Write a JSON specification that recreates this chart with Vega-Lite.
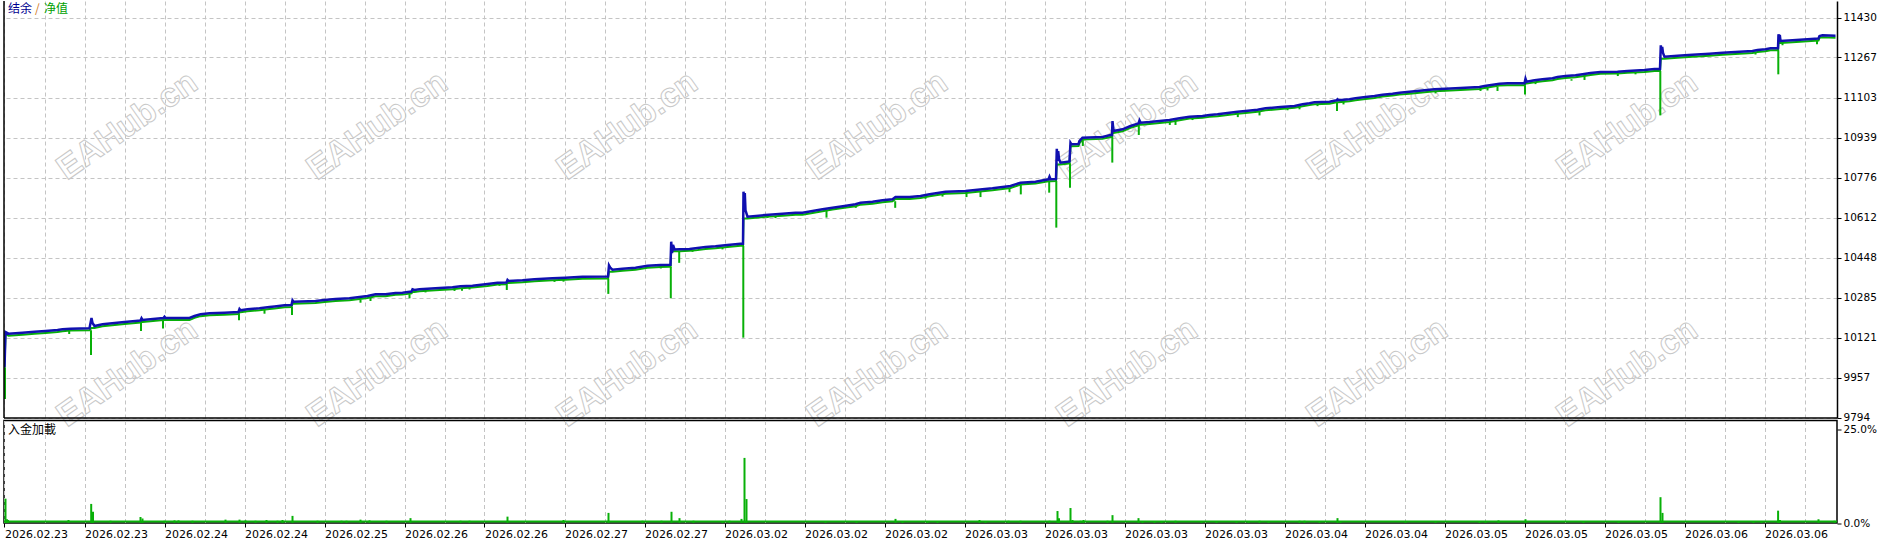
{
  "$schema": "https://vega.github.io/schema/vega-lite/v6.json",
  "background": "white",
  "padding": {"left": 2, "top": 0, "right": 0, "bottom": 0},
  "bounds": "flush",
  "spacing": 2.5,
  "config": {"view": {"stroke": null}, "font": "DejaVu Sans"},
  "datasets": {
    "series": [
      {"x":0,"b":10000,"e":10000},{"x":1,"b":10144.1,"e":10136},{"x":4,"b":10137.2,"e":10129},{"x":18,"b":10141.3,"e":10133},{"x":30,"b":10145.3,"e":10137},{"x":41,"b":10148.2,"e":10140},{"x":53,"b":10152.3,"e":10144},{"x":58,"b":10155.2,"e":10147},{"x":66,"b":10157.6,"e":10150},{"x":85,"b":10159.2,"e":10151},{"x":87,"b":10201.4,"e":10161},{"x":88,"b":10180.9,"e":10161},{"x":90,"b":10168.7,"e":10161},{"x":98,"b":10175.6,"e":10168},{"x":120,"b":10185.0,"e":10177},{"x":131,"b":10189.1,"e":10181},{"x":136,"b":10191.1,"e":10183},{"x":137,"b":10200.1,"e":10185},{"x":138,"b":10193.2,"e":10185},{"x":159,"b":10201.4,"e":10193},{"x":160,"b":10206.7,"e":10193},{"x":161,"b":10201.4,"e":10193},{"x":185,"b":10201.4,"e":10193},{"x":190,"b":10209.6,"e":10202},{"x":196,"b":10216.5,"e":10209},{"x":205,"b":10220.6,"e":10213},{"x":220,"b":10223.1,"e":10215},{"x":234,"b":10225.9,"e":10218},{"x":235,"b":10238.2,"e":10225},{"x":236,"b":10232.9,"e":10225},{"x":243,"b":10237.0,"e":10229},{"x":255,"b":10241.0,"e":10233},{"x":265,"b":10246.4,"e":10238},{"x":270,"b":10248.4,"e":10240},{"x":280,"b":10253.3,"e":10245},{"x":287,"b":10254.5,"e":10246},{"x":288,"b":10273.8,"e":10260},{"x":289,"b":10268.0,"e":10260},{"x":311,"b":10270.9,"e":10263},{"x":320,"b":10275.0,"e":10267},{"x":331,"b":10279.1,"e":10271},{"x":345,"b":10281.9,"e":10274},{"x":363,"b":10291.4,"e":10283},{"x":371,"b":10298.3,"e":10290},{"x":381,"b":10298.3,"e":10290},{"x":391,"b":10303.6,"e":10296},{"x":398,"b":10304.9,"e":10297},{"x":407,"b":10309.8,"e":10302},{"x":408,"b":10318.8,"e":10308},{"x":410,"b":10315.9,"e":10308},{"x":415,"b":10318.8,"e":10311},{"x":431,"b":10322.8,"e":10315},{"x":448,"b":10326.9,"e":10319},{"x":456,"b":10331.0,"e":10323},{"x":468,"b":10333.5,"e":10326},{"x":483,"b":10340.4,"e":10332},{"x":493,"b":10345.8,"e":10338},{"x":502,"b":10346.6,"e":10339},{"x":503,"b":10356.8,"e":10345},{"x":504,"b":10352.7,"e":10345},{"x":518,"b":10355.6,"e":10348},{"x":530,"b":10359.7,"e":10352},{"x":548,"b":10363.7,"e":10356},{"x":561,"b":10366.2,"e":10358},{"x":578,"b":10370.3,"e":10362},{"x":603.5,"b":10371.1,"e":10363},{"x":604.5,"b":10416.9,"e":10391},{"x":606,"b":10405.9,"e":10391},{"x":608,"b":10398.9,"e":10391},{"x":618,"b":10403.0,"e":10395},{"x":631,"b":10407.1,"e":10399},{"x":643,"b":10415.3,"e":10407},{"x":656,"b":10418.1,"e":10410},{"x":665,"b":10419.4,"e":10411},{"x":666,"b":10419.4,"e":10411},{"x":666.7,"b":10513.4,"e":10474},{"x":667.5,"b":10467.2,"e":10474},{"x":668.5,"b":10499.9,"e":10474},{"x":670,"b":10481.5,"e":10474},{"x":675,"b":10482.4,"e":10474},{"x":685,"b":10483.6,"e":10476},{"x":691,"b":10486.4,"e":10478},{"x":701,"b":10491.8,"e":10484},{"x":711,"b":10494.6,"e":10487},{"x":723,"b":10499.9,"e":10492},{"x":736,"b":10505.3,"e":10497},{"x":738.5,"b":10505.3,"e":10497},{"x":739,"b":10717.9,"e":10608},{"x":739.7,"b":10679.9,"e":10608},{"x":740.3,"b":10712.6,"e":10608},{"x":741,"b":10641.9,"e":10608},{"x":743,"b":10615.7,"e":10608},{"x":761,"b":10622.6,"e":10615},{"x":778,"b":10628.0,"e":10620},{"x":791,"b":10632.1,"e":10624},{"x":798,"b":10632.1,"e":10624},{"x":808,"b":10639.0,"e":10631},{"x":818,"b":10646.0,"e":10638},{"x":828,"b":10652.5,"e":10645},{"x":840,"b":10659.5,"e":10652},{"x":851,"b":10666.4,"e":10658},{"x":856,"b":10673.0,"e":10665},{"x":868,"b":10677.0,"e":10669},{"x":878,"b":10682.8,"e":10675},{"x":888,"b":10686.9,"e":10679},{"x":891,"b":10696.3,"e":10688},{"x":905,"b":10696.3,"e":10688},{"x":916,"b":10700.4,"e":10692},{"x":925,"b":10707.3,"e":10699},{"x":941,"b":10717.9,"e":10710},{"x":961,"b":10720.8,"e":10713},{"x":978,"b":10727.8,"e":10720},{"x":988,"b":10731.8,"e":10724},{"x":1006,"b":10741.3,"e":10733},{"x":1016,"b":10754.8,"e":10747},{"x":1031,"b":10758.8,"e":10751},{"x":1044,"b":10768.7,"e":10761},{"x":1045,"b":10779.3,"e":10761},{"x":1046,"b":10768.7,"e":10761},{"x":1051.5,"b":10769.9,"e":10762},{"x":1052.3,"b":10893.8,"e":10829},{"x":1053,"b":10843.5,"e":10829},{"x":1053.7,"b":10884.4,"e":10829},{"x":1054.5,"b":10851.7,"e":10829},{"x":1056,"b":10836.6,"e":10829},{"x":1065,"b":10841.5,"e":10834},{"x":1066,"b":10918.4,"e":10904},{"x":1067,"b":10911.8,"e":10904},{"x":1074,"b":10913.0,"e":10905},{"x":1075,"b":10925.3,"e":10917},{"x":1078,"b":10938.8,"e":10931},{"x":1098,"b":10941.7,"e":10934},{"x":1106,"b":10949.8,"e":10942},{"x":1107.5,"b":10949.8,"e":10942},{"x":1108,"b":11007.1,"e":10958},{"x":1109,"b":10966.2,"e":10958},{"x":1118,"b":10973.2,"e":10965},{"x":1126,"b":10986.7,"e":10979},{"x":1134,"b":10996.9,"e":10989},{"x":1135,"b":11009.1,"e":10992},{"x":1136,"b":11000.2,"e":10992},{"x":1145,"b":11003.0,"e":10995},{"x":1155,"b":11007.1,"e":10999},{"x":1165,"b":11011.2,"e":11003},{"x":1175,"b":11018.1,"e":11010},{"x":1185,"b":11024.7,"e":11017},{"x":1198,"b":11027.6,"e":11020},{"x":1205,"b":11031.6,"e":11024},{"x":1213,"b":11034.5,"e":11027},{"x":1223,"b":11039.8,"e":11032},{"x":1233,"b":11045.1,"e":11037},{"x":1241,"b":11048.0,"e":11040},{"x":1253,"b":11053.3,"e":11045},{"x":1261,"b":11059.0,"e":11051},{"x":1276,"b":11064.4,"e":11056},{"x":1290,"b":11068.5,"e":11061},{"x":1298,"b":11075.4,"e":11067},{"x":1305,"b":11079.5,"e":11072},{"x":1310,"b":11083.6,"e":11076},{"x":1325,"b":11086.0,"e":11078},{"x":1332,"b":11091.8,"e":11084},{"x":1333,"b":11095.9,"e":11084},{"x":1334,"b":11091.8,"e":11084},{"x":1345,"b":11095.9,"e":11088},{"x":1351,"b":11099.9,"e":11092},{"x":1361,"b":11105.3,"e":11097},{"x":1370,"b":11109.4,"e":11101},{"x":1378,"b":11114.7,"e":11107},{"x":1388,"b":11118.8,"e":11111},{"x":1395,"b":11122.9,"e":11115},{"x":1405,"b":11126.9,"e":11119},{"x":1420,"b":11132.7,"e":11125},{"x":1430,"b":11136.8,"e":11129},{"x":1441,"b":11139.2,"e":11131},{"x":1456,"b":11142.1,"e":11134},{"x":1475,"b":11146.2,"e":11138},{"x":1480,"b":11150.3,"e":11142},{"x":1495,"b":11159.7,"e":11152},{"x":1503,"b":11161.3,"e":11153},{"x":1520,"b":11161.3,"e":11153},{"x":1521,"b":11180.1,"e":11160},{"x":1522,"b":11167.8,"e":11160},{"x":1530,"b":11173.6,"e":11166},{"x":1538,"b":11177.7,"e":11170},{"x":1548,"b":11181.7,"e":11174},{"x":1553,"b":11187.1,"e":11179},{"x":1561,"b":11191.2,"e":11183},{"x":1571,"b":11194.0,"e":11186},{"x":1578,"b":11198.1,"e":11190},{"x":1586,"b":11203.4,"e":11195},{"x":1596,"b":11207.5,"e":11200},{"x":1613,"b":11208.7,"e":11201},{"x":1623,"b":11211.6,"e":11204},{"x":1640,"b":11215.7,"e":11208},{"x":1650,"b":11219.8,"e":11212},{"x":1655.5,"b":11219.8,"e":11212},{"x":1656.3,"b":11316.7,"e":11262},{"x":1657,"b":11293.4,"e":11262},{"x":1657.7,"b":11309.8,"e":11262},{"x":1658.5,"b":11285.2,"e":11262},{"x":1660,"b":11270.1,"e":11262},{"x":1673,"b":11274.2,"e":11266},{"x":1688,"b":11278.3,"e":11270},{"x":1705,"b":11282.4,"e":11274},{"x":1718,"b":11286.5,"e":11278},{"x":1735,"b":11290.5,"e":11282},{"x":1748,"b":11293.4,"e":11285},{"x":1753,"b":11297.5,"e":11289},{"x":1761,"b":11300.4,"e":11292},{"x":1766,"b":11304.4,"e":11296},{"x":1773.5,"b":11304.4,"e":11296},{"x":1774,"b":11361.7,"e":11326},{"x":1774.7,"b":11342.5,"e":11326},{"x":1775.3,"b":11358.8,"e":11326},{"x":1776,"b":11334.3,"e":11326},{"x":1788,"b":11337.2,"e":11329},{"x":1803,"b":11341.3,"e":11333},{"x":1814,"b":11344.5,"e":11336},{"x":1815,"b":11354.8,"e":11347},{"x":1818,"b":11357.6,"e":11350},{"x":1831,"b":11356.0,"e":11348}
    ],
    "dips": [
      {"x":0.5,"hi":10000,"lo":9870},{"x":64.7,"hi":10149,"lo":10136},{"x":86.5,"hi":10151,"lo":10050},{"x":136.5,"hi":10183,"lo":10148},{"x":158.5,"hi":10193,"lo":10158},{"x":234.5,"hi":10218,"lo":10192},{"x":260,"hi":10236,"lo":10219},{"x":287.5,"hi":10246,"lo":10214},{"x":356,"hi":10276,"lo":10264},{"x":366,"hi":10284,"lo":10271},{"x":405,"hi":10299,"lo":10282},{"x":421,"hi":10312,"lo":10306},{"x":450,"hi":10319,"lo":10312},{"x":457.5,"hi":10323,"lo":10313},{"x":465,"hi":10325,"lo":10318},{"x":495,"hi":10338,"lo":10333},{"x":502.3,"hi":10339,"lo":10316},{"x":550,"hi":10356,"lo":10349},{"x":559,"hi":10358,"lo":10350},{"x":603.8,"hi":10363,"lo":10300},{"x":656.3,"hi":10410,"lo":10404},{"x":666.3,"hi":10411,"lo":10282},{"x":674.7,"hi":10474,"lo":10427},{"x":688,"hi":10476,"lo":10472},{"x":718,"hi":10489,"lo":10482},{"x":738.8,"hi":10497,"lo":10121},{"x":763,"hi":10615,"lo":10611},{"x":771,"hi":10617,"lo":10610},{"x":822,"hi":10640,"lo":10612},{"x":851.3,"hi":10658,"lo":10652},{"x":890.7,"hi":10679,"lo":10652},{"x":921,"hi":10694,"lo":10689},{"x":938,"hi":10705,"lo":10698},{"x":962,"hi":10713,"lo":10696},{"x":976,"hi":10719,"lo":10696},{"x":1005,"hi":10732,"lo":10716},{"x":1016.3,"hi":10747,"lo":10707},{"x":1044.7,"hi":10761,"lo":10714},{"x":1051.8,"hi":10762,"lo":10571},{"x":1065.5,"hi":10834,"lo":10734},{"x":1078.3,"hi":10931,"lo":10905},{"x":1107.8,"hi":10942,"lo":10837},{"x":1134.3,"hi":10989,"lo":10950},{"x":1165.3,"hi":11003,"lo":10991},{"x":1171,"hi":11006,"lo":10991},{"x":1188,"hi":11017,"lo":11011},{"x":1233.3,"hi":11037,"lo":11023},{"x":1255,"hi":11045,"lo":11030},{"x":1283,"hi":11058,"lo":11051},{"x":1295,"hi":11064,"lo":11055},{"x":1313,"hi":11076,"lo":11068},{"x":1332.5,"hi":11084,"lo":11048},{"x":1339,"hi":11086,"lo":11075},{"x":1431,"hi":11129,"lo":11120},{"x":1476,"hi":11138,"lo":11130},{"x":1483,"hi":11142,"lo":11132},{"x":1493,"hi":11147,"lo":11130},{"x":1520.5,"hi":11153,"lo":11116},{"x":1531,"hi":11166,"lo":11158},{"x":1567,"hi":11178,"lo":11172},{"x":1580,"hi":11190,"lo":11175},{"x":1613.3,"hi":11201,"lo":11191},{"x":1631,"hi":11205,"lo":11198},{"x":1655.8,"hi":11212,"lo":11030},{"x":1751,"hi":11285,"lo":11279},{"x":1773.8,"hi":11296,"lo":11198},{"x":1778,"hi":11326,"lo":11317},{"x":1812.5,"hi":11336,"lo":11321}
    ],
    "load": [
      {"x":1,"p":6.5},{"x":2.5,"p":1.0},{"x":3.5,"p":0.8},{"x":64,"p":0.8},{"x":86.7,"p":5.1},{"x":88.5,"p":3.0},{"x":106,"p":0.6},{"x":136,"p":1.6},{"x":138,"p":1.2},{"x":160,"p":0.6},{"x":170,"p":0.7},{"x":174,"p":0.7},{"x":188,"p":0.6},{"x":221,"p":0.9},{"x":235,"p":0.9},{"x":241,"p":0.7},{"x":251,"p":0.6},{"x":262,"p":0.8},{"x":273,"p":0.6},{"x":278,"p":0.8},{"x":288,"p":1.9},{"x":313,"p":0.6},{"x":337,"p":0.6},{"x":342,"p":0.6},{"x":356,"p":0.9},{"x":365,"p":0.7},{"x":382,"p":0.6},{"x":406,"p":1.3},{"x":456,"p":0.6},{"x":465,"p":0.6},{"x":503,"p":1.7},{"x":559,"p":0.8},{"x":604,"p":2.7},{"x":638,"p":0.6},{"x":657,"p":0.6},{"x":667,"p":3.0},{"x":675,"p":1.3},{"x":689,"p":0.6},{"x":718,"p":0.5},{"x":725,"p":0.6},{"x":737,"p":1.1},{"x":740,"p":17.4},{"x":742,"p":6.4},{"x":821,"p":0.4},{"x":852,"p":0.4},{"x":891,"p":1.1},{"x":898,"p":0.5},{"x":923,"p":0.5},{"x":933,"p":0.4},{"x":975,"p":0.8},{"x":981,"p":0.5},{"x":1004,"p":0.6},{"x":1016,"p":0.6},{"x":1045,"p":0.6},{"x":1053,"p":3.2},{"x":1054.5,"p":1.3},{"x":1066,"p":4.0},{"x":1068,"p":0.8},{"x":1076,"p":0.6},{"x":1079,"p":0.8},{"x":1103,"p":0.6},{"x":1108,"p":2.1},{"x":1134,"p":1.3},{"x":1138,"p":0.5},{"x":1150,"p":0.5},{"x":1157,"p":0.5},{"x":1171,"p":0.6},{"x":1197,"p":0.5},{"x":1212,"p":0.4},{"x":1232,"p":0.4},{"x":1244,"p":0.5},{"x":1255,"p":0.6},{"x":1264,"p":0.5},{"x":1295,"p":0.6},{"x":1300,"p":0.6},{"x":1315,"p":0.5},{"x":1333,"p":1.3},{"x":1336,"p":0.5},{"x":1401,"p":0.4},{"x":1431,"p":0.4},{"x":1475,"p":0.5},{"x":1481,"p":0.5},{"x":1494,"p":0.7},{"x":1521,"p":1.0},{"x":1579,"p":0.4},{"x":1614,"p":0.4},{"x":1656,"p":6.9},{"x":1658,"p":2.7},{"x":1734,"p":0.4},{"x":1749,"p":0.4},{"x":1757,"p":0.5},{"x":1773.6,"p":3.3},{"x":1775.5,"p":0.8},{"x":1814,"p":1.0},{"x":1830,"p":0.6}
    ],
    "watermark": [
      {"x":123,"y":10986.6},{"x":373,"y":10986.6},{"x":623,"y":10986.6},{"x":873,"y":10986.6},{"x":1123,"y":10986.6},{"x":1373,"y":10986.6},{"x":1623,"y":10986.6},
      {"x":123,"y":9976.4},{"x":373,"y":9976.4},{"x":623,"y":9976.4},{"x":873,"y":9976.4},{"x":1123,"y":9976.4},{"x":1373,"y":9976.4},{"x":1623,"y":9976.4}
    ]
  },
  "vconcat": [
    {
      "width": 1833,
      "height": 417,
      "layer": [
        {
          "data": {"name": "watermark"},
          "mark": {"type": "text", "text": "EAHub.cn", "font": "Liberation Sans", "fontWeight": "bold", "fontSize": 34, "angle": -35, "align": "center", "baseline": "middle", "fill": "white", "fillOpacity": 0, "stroke": "#c8c8c8", "strokeWidth": 1},
          "encoding": {
            "x": {"field": "x", "type": "quantitative",
              "scale": {"domain": [-0.5, 1832.5], "nice": false, "zero": false},
              "axis": {"values": [0,40,80,120,160,200,240,280,320,360,400,440,480,520,560,600,640,680,720,760,800,840,880,920,960,1000,1040,1080,1120,1160,1200,1240,1280,1320,1360,1400,1440,1480,1520,1560,1600,1640,1680,1720,1760,1800],
                "labels": false, "ticks": false, "domain": false, "grid": true, "gridColor": "#c4c4c4", "gridDash": [4, 3], "gridWidth": 1, "title": null}},
            "y": {"field": "y", "type": "quantitative",
              "scale": {"domain": [9792.4, 11497.9], "nice": false, "zero": false},
              "axis": {"orient": "right", "values": [9794, 9957, 10121, 10285, 10448, 10612, 10776, 10939, 11103, 11267, 11430], "format": "d",
                "grid": true, "gridColor": "#c4c4c4", "gridDash": [4, 3], "gridWidth": 1,
                "domain": true, "domainColor": "black", "domainWidth": 1.5,
                "ticks": true, "tickSize": 4, "tickColor": "black", "tickWidth": 1,
                "labelFont": "DejaVu Sans", "labelFontSize": 10.5, "labelColor": "black", "labelPadding": 2,
                "labelOverlap": false, "labelFlush": false, "labelBound": false, "title": null}}
          }
        },
        {
          "data": {"name": "series"},
          "mark": {"type": "line", "color": "#08b008", "strokeWidth": 2, "clip": true},
          "encoding": {
            "x": {"field": "x", "type": "quantitative"},
            "y": {"field": "e", "type": "quantitative"}
          }
        },
        {
          "data": {"name": "dips"},
          "mark": {"type": "rule", "color": "#08b008", "strokeWidth": 2},
          "encoding": {
            "x": {"field": "x", "type": "quantitative"},
            "y": {"field": "lo", "type": "quantitative"},
            "y2": {"field": "hi"}
          }
        },
        {
          "data": {"name": "series"},
          "mark": {"type": "line", "color": "#1010b0", "strokeWidth": 2.5, "clip": true},
          "encoding": {
            "x": {"field": "x", "type": "quantitative"},
            "y": {"field": "b", "type": "quantitative"}
          }
        },
        {
          "data": {"values": [{}]},
          "mark": {"type": "rule", "color": "black", "strokeWidth": 1.5},
          "encoding": {"x": {"datum": -0.5}}
        },
        {
          "data": {"values": [{}]},
          "mark": {"type": "rule", "color": "black", "strokeWidth": 1.5},
          "encoding": {"y": {"datum": 9792.4}}
        },
        {
          "data": {"values": [{}]},
          "mark": {"type": "text", "text": "结余", "font": "Noto Sans CJK SC", "fontSize": 12, "align": "left", "baseline": "top", "dx": 4, "dy": 3, "color": "#000090"},
          "encoding": {"x": {"datum": -0.5}, "y": {"datum": 11497.9}}
        },
        {
          "data": {"values": [{}]},
          "mark": {"type": "text", "text": "/", "font": "Noto Sans CJK SC", "fontSize": 12, "align": "left", "baseline": "top", "dx": 31, "dy": 3, "color": "#d07818"},
          "encoding": {"x": {"datum": -0.5}, "y": {"datum": 11497.9}}
        },
        {
          "data": {"values": [{}]},
          "mark": {"type": "text", "text": "净值", "font": "Noto Sans CJK SC", "fontSize": 12, "align": "left", "baseline": "top", "dx": 40, "dy": 3, "color": "#00a000"},
          "encoding": {"x": {"datum": -0.5}, "y": {"datum": 11497.9}}
        }
      ]
    },
    {
      "width": 1833,
      "height": 102.5,
      "view": {"stroke": "black", "strokeWidth": 1.5},
      "layer": [
        {
          "data": {"name": "load"},
          "mark": {"type": "rule", "color": "#08b008", "strokeWidth": 2},
          "encoding": {
            "x": {"field": "x", "type": "quantitative",
              "scale": {"domain": [-0.5, 1832.5], "nice": false, "zero": false},
              "axis": {"orient": "bottom", "values": [0,40,80,120,160,200,240,280,320,360,400,440,480,520,560,600,640,680,720,760,800,840,880,920,960,1000,1040,1080,1120,1160,1200,1240,1280,1320,1360,1400,1440,1480,1520,1560,1600,1640,1680,1720,1760,1800],
                "grid": true, "gridColor": "#c4c4c4", "gridDash": [4, 3], "gridWidth": 1,
                "domain": false, "ticks": true, "tickSize": 4, "tickColor": "black", "tickWidth": 1,
                "tickOpacity": {"condition": {"test": "datum.value % 80 === 0", "value": 1}, "value": 0},
                "labelExpr": "datum.value % 80 === 0 ? ['2026.02.23','2026.02.23','2026.02.24','2026.02.24','2026.02.25','2026.02.26','2026.02.26','2026.02.27','2026.02.27','2026.03.02','2026.03.02','2026.03.02','2026.03.03','2026.03.03','2026.03.03','2026.03.03','2026.03.04','2026.03.04','2026.03.05','2026.03.05','2026.03.05','2026.03.06','2026.03.06'][datum.value / 80] : ''",
                "labelAlign": "left", "labelBaseline": "top", "labelPadding": 1,
                "labelFont": "DejaVu Sans", "labelFontSize": 11, "labelColor": "black",
                "labelOverlap": false, "labelFlush": false, "labelBound": false, "title": null}},
            "y": {"field": "p", "type": "quantitative",
              "scale": {"domain": [0, 27.4], "nice": false, "zero": true},
              "axis": {"orient": "right", "values": [0, 25], "labelExpr": "format(datum.value, '.1f') + '%'",
                "grid": false, "domain": false, "ticks": true, "tickSize": 4, "tickColor": "black",
                "labelFont": "DejaVu Sans", "labelFontSize": 10.5, "labelColor": "black", "labelPadding": 2,
                "labelOverlap": false, "labelFlush": false, "labelBound": false, "title": null}},
            "y2": {"datum": 0}
          }
        },
        {
          "data": {"values": [{}]},
          "mark": {"type": "rule", "color": "#08b008", "strokeWidth": 2},
          "encoding": {"y": {"datum": 0.4}}
        },
        {
          "data": {"values": [{}]},
          "mark": {"type": "text", "text": "入金加載", "font": "Noto Sans CJK SC", "fontSize": 12, "align": "left", "baseline": "top", "dx": 4, "dy": 4, "color": "black"},
          "encoding": {"x": {"datum": -0.5}, "y": {"datum": 27.4}}
        }
      ]
    }
  ]
}
